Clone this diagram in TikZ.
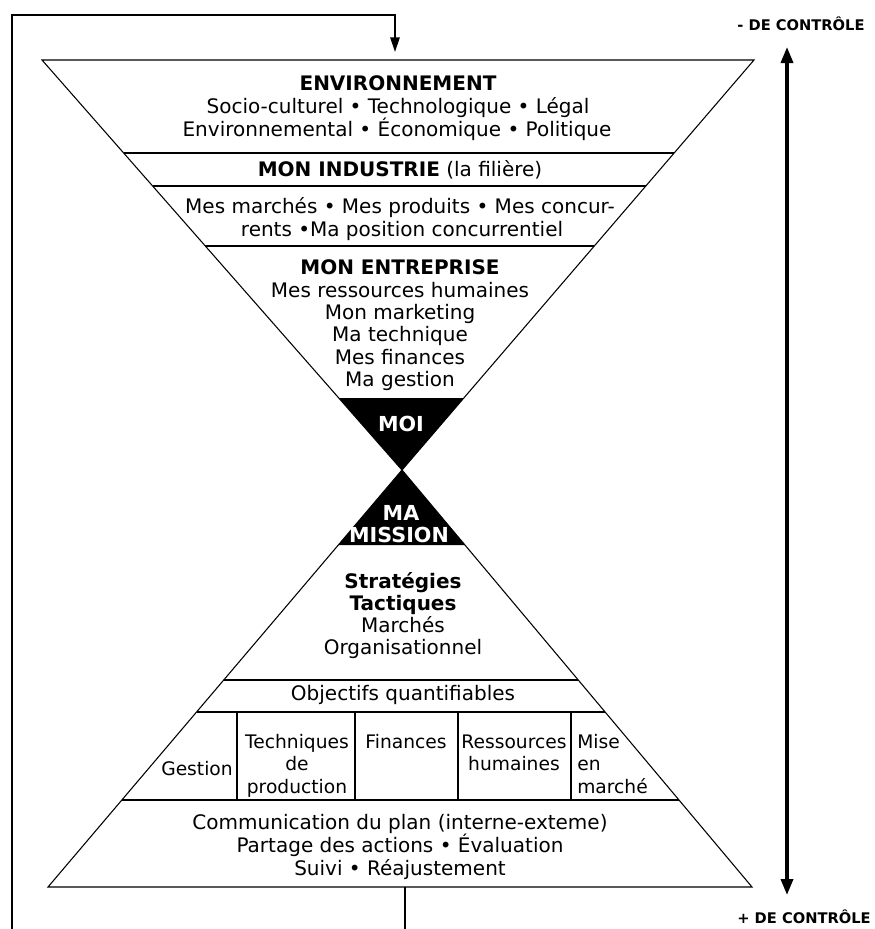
\documentclass[tikz,border=0pt]{standalone}
\usepackage{fontspec}
\setmainfont{DejaVu Sans}
\usetikzlibrary{calc,arrows.meta}
\begin{document}
\begin{tikzpicture}[x=0.75pt,y=-0.75pt,
  txt/.style={font=\fontsize{15}{16}\selectfont, inner sep=0pt, anchor=base},
  btxt/.style={txt, font=\fontsize{15}{16}\selectfont\bfseries},
  wtxt/.style={txt, font=\fontsize{15.5}{16}\selectfont\bfseries, text=white},
  ctxt/.style={txt, font=\fontsize{14}{16}\selectfont},
  ltxt/.style={txt, font=\fontsize{11}{16}\selectfont\bfseries},
  shape line/.style={line width=0.8pt},
  loopline/.style={line width=1.5pt},
  bigarrow/.style={line width=2.6pt, {Triangle[width=9pt,length=12pt]}-{Triangle[width=9pt,length=12pt]}},
  smallarrow/.style={line width=1.5pt, -{Triangle[width=7pt,length=11pt]}}]
\useasboundingbox (0,0) rectangle (875,929);
% geometry
\coordinate (TL) at (42,60);
\coordinate (TR) at (754,60);
\coordinate (A) at (402,470);
\coordinate (BL) at (48,887);
\coordinate (BR) at (752,887);
% upper inverted triangle
\draw[shape line] (TL) -- (TR) -- (A) -- cycle;
\foreach \t/\n in {0.2268/u1,0.3073/u2,0.4537/u3,0.8244/u4}{
  \coordinate (\n L) at ($(TL)!\t!(A)$);
  \coordinate (\n R) at ($(TR)!\t!(A)$);
}
\draw[shape line] (u1L) -- (u1R) (u2L) -- (u2R) (u3L) -- (u3R);
\fill (u4L) -- (u4R) -- (A) -- cycle;
% lower triangle
\draw[shape line] (A) -- (BL) -- (BR) -- cycle;
\foreach \t/\n in {0.1799/l1,0.5036/l2,0.5803/l3,0.7914/l4}{
  \coordinate (\n L) at ($(A)!\t!(BL)$);
  \coordinate (\n R) at ($(A)!\t!(BR)$);
}
\fill (A) -- (l1L) -- (l1R) -- cycle;
\draw[shape line] (l2L) -- (l2R) (l3L) -- (l3R) (l4L) -- (l4R);
\foreach \x in {237,355,458,571}{
  \draw[shape line] (\x,712) -- (\x,800);
}
% texts upper
\node[btxt] (env) at (398,90) {ENVIRONNEMENT};
\node[txt] (env1) at (398,113) {Socio-culturel • Technologique • Légal};
\node[txt] (env2) at (397,136) {Environnemental • Économique • Politique};
\node[txt] (ind) at (400,176) {\textbf{MON INDUSTRIE} (la filière)};
\node[txt] (ind1) at (400,213) {Mes marchés • Mes produits • Mes concur-};
\node[txt] (ind2) at (402,236) {rents •Ma position concurrentiel};
\node[btxt] (ent) at (400,274) {MON ENTREPRISE};
\node[txt] (ent1) at (400,297) {Mes ressources humaines};
\node[txt] (ent2) at (400,319) {Mon marketing};
\node[txt] (ent3) at (400,341) {Ma technique};
\node[txt] (ent4) at (400,364) {Mes finances};
\node[txt] (ent5) at (400,386) {Ma gestion};
\node[wtxt] (moi) at (401,431) {MOI};
\node[wtxt] (ma) at (401,520) {MA};
\node[wtxt] (mission) at (399,542) {MISSION};
% texts lower
\node[btxt] (str) at (403,588) {Stratégies};
\node[btxt] (tac) at (403,610) {Tactiques};
\node[txt] (mar) at (403,632) {Marchés};
\node[txt] (org) at (403,654) {Organisationnel};
\node[txt] (obj) at (403,700) {Objectifs quantifiables};
\node[ctxt] (ges) at (197,775) {Gestion};
\node[ctxt] (tec1) at (297,748) {Techniques};
\node[ctxt] (tec2) at (297,770) {de};
\node[ctxt] (tec3) at (297,793) {production};
\node[ctxt] (fin) at (406,748) {Finances};
\node[ctxt] (res1) at (514,748) {Ressources};
\node[ctxt] (res2) at (514,770) {humaines};
\node[ctxt,anchor=base west] (mis1) at (577,748) {Mise};
\node[ctxt,anchor=base west] (mis2) at (577,770) {en};
\node[ctxt,anchor=base west] (mis3) at (577,793) {marché};
\node[txt] (com1) at (400,829) {Communication du plan (interne-exteme)};
\node[txt] (com2) at (400,852) {Partage des actions • Évaluation};
\node[txt] (com3) at (400,875) {Suivi • Réajustement};
% control labels
\node[ltxt] (moins) at (801,30) {- DE CONTRÔLE};
\node[ltxt] (plus) at (804,923) {+ DE CONTRÔLE};
\coordinate (arT) at (787,47);
\coordinate (arB) at (787,895);
\draw[bigarrow] (arT) -- (arB);
% feedback loop
\coordinate (lpB) at (12,929);
\coordinate (lpC) at (12,15);
\coordinate (lpT) at (395,15);
\coordinate (lpIn) at (395,52);
\coordinate (outT) at (405,887);
\coordinate (outB) at (405,929);
\draw[loopline] (outT) -- (outB);
\draw[smallarrow] (lpB) -- (lpC) -- (lpT) -- (lpIn);
\end{tikzpicture}
\end{document}
